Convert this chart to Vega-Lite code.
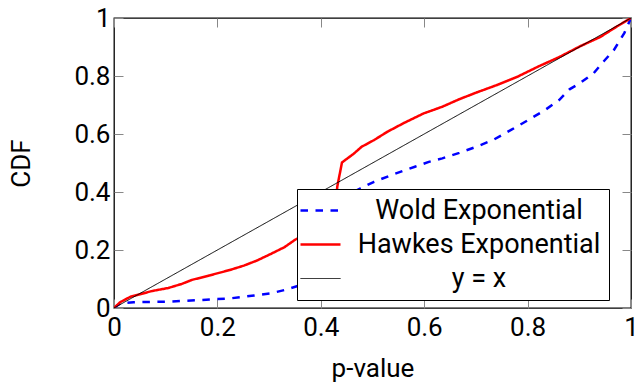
{
  "$schema": "https://vega.github.io/schema/vega-lite/v6.json",
  "width": 517,
  "height": 290,
  "autosize": {"type": "none"},
  "padding": {"left": 114, "top": 18, "right": 6, "bottom": 75},
  "config": {
    "font": "Roboto",
    "view": {"stroke": "black", "strokeWidth": 1.3},
    "axis": {
      "grid": false,
      "domain": false,
      "tickSize": -9,
      "tickColor": "#888",
      "tickWidth": 1,
      "labelFlush": false,
      "labelOverlap": false,
      "labelFontSize": 26,
      "labelColor": "black",
      "titleFontSize": 26,
      "titleFontWeight": "normal",
      "titleColor": "black",
      "labelFont": "Roboto",
      "titleFont": "Roboto"
    }
  },
  "datasets": {
    "curves": [
      {"series": "Wold Exponential", "p": 0, "cdf": 0},
      {"series": "Wold Exponential", "p": 0.012, "cdf": 0.016},
      {"series": "Wold Exponential", "p": 0.038, "cdf": 0.02},
      {"series": "Wold Exponential", "p": 0.105, "cdf": 0.022},
      {"series": "Wold Exponential", "p": 0.171, "cdf": 0.028},
      {"series": "Wold Exponential", "p": 0.224, "cdf": 0.033},
      {"series": "Wold Exponential", "p": 0.271, "cdf": 0.043},
      {"series": "Wold Exponential", "p": 0.304, "cdf": 0.051},
      {"series": "Wold Exponential", "p": 0.33, "cdf": 0.062},
      {"series": "Wold Exponential", "p": 0.357, "cdf": 0.077},
      {"series": "Wold Exponential", "p": 0.38, "cdf": 0.1},
      {"series": "Wold Exponential", "p": 0.4, "cdf": 0.15},
      {"series": "Wold Exponential", "p": 0.42, "cdf": 0.24},
      {"series": "Wold Exponential", "p": 0.44, "cdf": 0.33},
      {"series": "Wold Exponential", "p": 0.458, "cdf": 0.395},
      {"series": "Wold Exponential", "p": 0.476, "cdf": 0.412},
      {"series": "Wold Exponential", "p": 0.503, "cdf": 0.435},
      {"series": "Wold Exponential", "p": 0.536, "cdf": 0.458},
      {"series": "Wold Exponential", "p": 0.582, "cdf": 0.487},
      {"series": "Wold Exponential", "p": 0.609, "cdf": 0.504},
      {"series": "Wold Exponential", "p": 0.635, "cdf": 0.516},
      {"series": "Wold Exponential", "p": 0.668, "cdf": 0.535},
      {"series": "Wold Exponential", "p": 0.701, "cdf": 0.556},
      {"series": "Wold Exponential", "p": 0.735, "cdf": 0.581},
      {"series": "Wold Exponential", "p": 0.768, "cdf": 0.614},
      {"series": "Wold Exponential", "p": 0.801, "cdf": 0.648},
      {"series": "Wold Exponential", "p": 0.834, "cdf": 0.683},
      {"series": "Wold Exponential", "p": 0.861, "cdf": 0.717},
      {"series": "Wold Exponential", "p": 0.881, "cdf": 0.754},
      {"series": "Wold Exponential", "p": 0.901, "cdf": 0.775},
      {"series": "Wold Exponential", "p": 0.928, "cdf": 0.81},
      {"series": "Wold Exponential", "p": 0.947, "cdf": 0.85},
      {"series": "Wold Exponential", "p": 0.967, "cdf": 0.89},
      {"series": "Wold Exponential", "p": 0.987, "cdf": 0.948},
      {"series": "Wold Exponential", "p": 1, "cdf": 1},
      {"series": "Hawkes Exponential", "p": 0, "cdf": 0},
      {"series": "Hawkes Exponential", "p": 0.012, "cdf": 0.02},
      {"series": "Hawkes Exponential", "p": 0.032, "cdf": 0.039},
      {"series": "Hawkes Exponential", "p": 0.052, "cdf": 0.048},
      {"series": "Hawkes Exponential", "p": 0.072, "cdf": 0.058},
      {"series": "Hawkes Exponential", "p": 0.105, "cdf": 0.069},
      {"series": "Hawkes Exponential", "p": 0.131, "cdf": 0.083},
      {"series": "Hawkes Exponential", "p": 0.151, "cdf": 0.097},
      {"series": "Hawkes Exponential", "p": 0.184, "cdf": 0.112},
      {"series": "Hawkes Exponential", "p": 0.224, "cdf": 0.131},
      {"series": "Hawkes Exponential", "p": 0.251, "cdf": 0.146},
      {"series": "Hawkes Exponential", "p": 0.277, "cdf": 0.164},
      {"series": "Hawkes Exponential", "p": 0.304, "cdf": 0.187},
      {"series": "Hawkes Exponential", "p": 0.33, "cdf": 0.21},
      {"series": "Hawkes Exponential", "p": 0.35, "cdf": 0.235},
      {"series": "Hawkes Exponential", "p": 0.37, "cdf": 0.255},
      {"series": "Hawkes Exponential", "p": 0.39, "cdf": 0.27},
      {"series": "Hawkes Exponential", "p": 0.41, "cdf": 0.285},
      {"series": "Hawkes Exponential", "p": 0.425, "cdf": 0.3},
      {"series": "Hawkes Exponential", "p": 0.432, "cdf": 0.42},
      {"series": "Hawkes Exponential", "p": 0.441, "cdf": 0.502},
      {"series": "Hawkes Exponential", "p": 0.463, "cdf": 0.531},
      {"series": "Hawkes Exponential", "p": 0.479, "cdf": 0.556},
      {"series": "Hawkes Exponential", "p": 0.503, "cdf": 0.579},
      {"series": "Hawkes Exponential", "p": 0.529, "cdf": 0.608},
      {"series": "Hawkes Exponential", "p": 0.562, "cdf": 0.639},
      {"series": "Hawkes Exponential", "p": 0.599, "cdf": 0.671},
      {"series": "Hawkes Exponential", "p": 0.635, "cdf": 0.694},
      {"series": "Hawkes Exponential", "p": 0.668, "cdf": 0.72},
      {"series": "Hawkes Exponential", "p": 0.701, "cdf": 0.743},
      {"series": "Hawkes Exponential", "p": 0.741, "cdf": 0.769},
      {"series": "Hawkes Exponential", "p": 0.781, "cdf": 0.798},
      {"series": "Hawkes Exponential", "p": 0.821, "cdf": 0.833},
      {"series": "Hawkes Exponential", "p": 0.861, "cdf": 0.865},
      {"series": "Hawkes Exponential", "p": 0.901, "cdf": 0.902},
      {"series": "Hawkes Exponential", "p": 0.94, "cdf": 0.934},
      {"series": "Hawkes Exponential", "p": 0.973, "cdf": 0.971},
      {"series": "Hawkes Exponential", "p": 1, "cdf": 1},
      {"series": "y = x", "p": 0, "cdf": 0},
      {"series": "y = x", "p": 1, "cdf": 1}
    ]
  },
  "data": {"name": "curves"},
  "layer": [
    {
      "mark": {"type": "line", "clip": true},
      "encoding": {
        "x": {
          "field": "p", "type": "quantitative",
          "scale": {"domain": [0, 1], "nice": false},
          "axis": {"orient": "bottom", "values": [0, 0.2, 0.4, 0.6, 0.8, 1], "format": "~g", "title": "p-value", "labelPadding": 15, "titlePadding": 15}
        },
        "y": {
          "field": "cdf", "type": "quantitative",
          "scale": {"domain": [0, 1], "nice": false},
          "axis": {"orient": "left", "values": [0, 0.2, 0.4, 0.6, 0.8, 1], "format": "~g", "title": "CDF", "labelPadding": 13, "titlePadding": 39}
        },
        "color": {
          "field": "series", "type": "nominal", "title": null,
          "scale": {"domain": ["Wold Exponential", "Hawkes Exponential", "y = x"], "range": ["#0000ff", "#ff0000", "#000000"]},
          "legend": {
            "orient": "none", "legendX": 183, "legendY": 171,
            "fillColor": "white", "strokeColor": "black", "padding": 8,
            "symbolType": "stroke", "symbolSize": 1600, "symbolOffset": 2,
            "labelFontSize": 27, "labelColor": "black", "labelAlign": "center", "labelOffset": 145, "labelLimit": 400,
            "rowPadding": 6,
            "encode": {"symbols": {"update": {"strokeWidth": {"signal": "datum.value === 'y = x' ? 1 : 2.5"}}}}
          }
        },
        "strokeDash": {
          "field": "series", "type": "nominal", "title": null,
          "scale": {"domain": ["Wold Exponential", "Hawkes Exponential", "y = x"], "range": [[7.5, 7.5], [1, 0], [1, 0]]}
        },
        "strokeWidth": {"condition": {"test": "datum.series === 'y = x'", "value": 1}, "value": 2.5}
      }
    },
    {
      "mark": {"type": "point", "opacity": 0},
      "encoding": {
        "x": {
          "field": "p", "type": "quantitative",
          "axis": {"orient": "top", "values": [0, 0.2, 0.4, 0.6, 0.8, 1], "labels": false, "title": null}
        },
        "y": {
          "field": "cdf", "type": "quantitative",
          "axis": {"orient": "right", "values": [0, 0.2, 0.4, 0.6, 0.8, 1], "labels": false, "title": null}
        }
      }
    }
  ],
  "resolve": {"axis": {"x": "independent", "y": "independent"}}
}
